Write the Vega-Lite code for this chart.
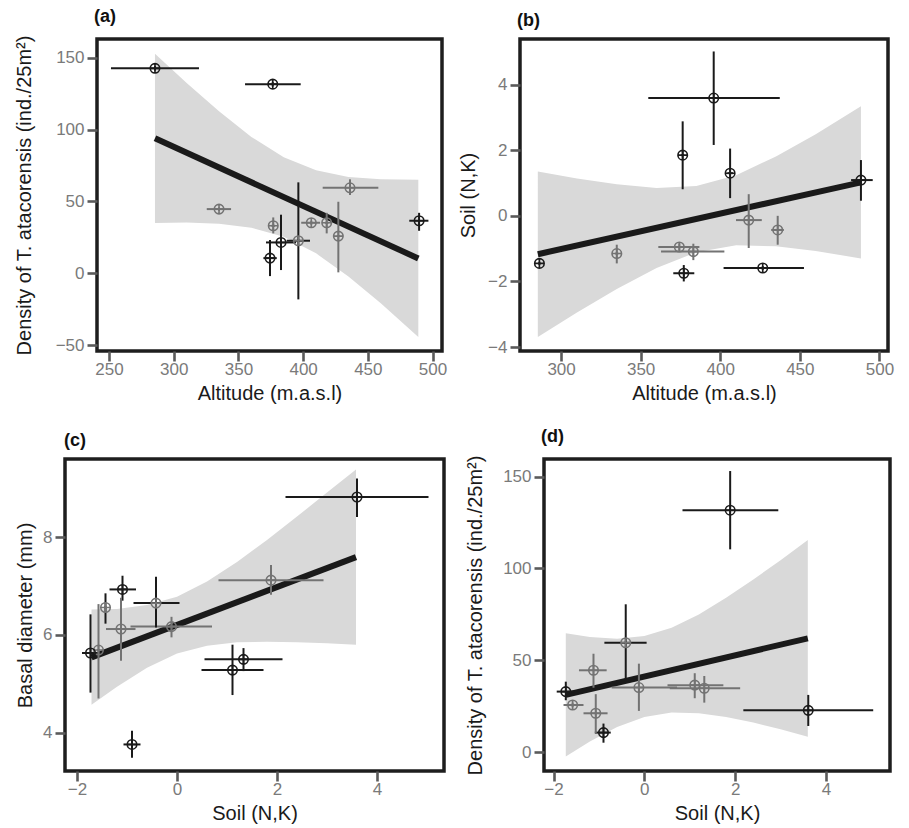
{
  "$schema": "https://vega.github.io/schema/vega-lite/v6.json",
  "padding": {"left": 12, "top": 6, "right": 5, "bottom": 5},
  "config": {
    "view": {"stroke": "#1e1e1e", "strokeWidth": 3.5},
    "font": "Liberation Sans",
    "axis": {"domain": false, "grid": false, "tickColor": "#5a5a5a", "tickWidth": 2.6, "tickSize": 10, "labelColor": "#7a7a7a", "labelFontSize": 17, "labelFont": "Liberation Sans", "labelPadding": 3, "titleFont": "Liberation Sans", "titleFontSize": 20, "titleFontWeight": "normal", "titleColor": "#1a1a1a", "labelFlush": false, "labelOverlap": false},
    "axisX": {"minExtent": 27, "maxExtent": 27, "titlePadding": 5, "labelPadding": 0},
    "title": {"anchor": "start", "frame": "group", "fontSize": 18, "fontWeight": "bold", "font": "Liberation Sans", "offset": 9, "color": "#111111"}
  },
  "datasets": {
    "a_pts": [
      {"x": 285.5, "y": 142.6, "xlo": 251.5, "xhi": 319.5, "ylo": 141, "yhi": 144.2, "pc": "k", "ec": "k"},
      {"x": 376.5, "y": 131.6, "xlo": 355.1, "xhi": 398.1, "ylo": 130, "yhi": 133.2, "pc": "k", "ec": "k"},
      {"x": 335, "y": 44.7, "xlo": 325.5, "xhi": 344.3, "ylo": 43.5, "yhi": 45.9, "pc": "g", "ec": "g"},
      {"x": 436.2, "y": 59.5, "xlo": 415.1, "xhi": 458.1, "ylo": 54.5, "yhi": 65.4, "pc": "g", "ec": "g"},
      {"x": 489.6, "y": 36.6, "xlo": 482.0, "xhi": 496.8, "ylo": 29.6, "yhi": 42.1, "pc": "k", "ec": "k"},
      {"x": 376.9, "y": 33.1, "xlo": 375.5, "xhi": 378.3, "ylo": 27.8, "yhi": 38.9, "pc": "g", "ec": "g"},
      {"x": 406.3, "y": 35.2, "xlo": 398.5, "xhi": 413.1, "ylo": 33.8, "yhi": 36.6, "pc": "g", "ec": "g"},
      {"x": 418.2, "y": 35.2, "xlo": 416.8, "xhi": 419.6, "ylo": 27.8, "yhi": 42.1, "pc": "g", "ec": "g"},
      {"x": 427.2, "y": 25.9, "xlo": 426, "xhi": 428.4, "ylo": 0.7, "yhi": 49.8, "pc": "g", "ec": "g"},
      {"x": 396.3, "y": 22.7, "xlo": 387.3, "xhi": 405.3, "ylo": -18.1, "yhi": 63.3, "pc": "g", "ec": "k"},
      {"x": 382.9, "y": 21.5, "xlo": 371.3, "xhi": 394.5, "ylo": 2.3, "yhi": 40.8, "pc": "k", "ec": "k"},
      {"x": 374.4, "y": 10.6, "xlo": 369.3, "xhi": 379.6, "ylo": -1.9, "yhi": 23.2, "pc": "k", "ec": "k"}
    ],
    "a_line": [{"x": 285.5, "y": 93.9}, {"x": 489.0, "y": 10.4}],
    "a_band": [
      {"x": 285.5, "lo": 35.1, "hi": 152.7}, {"x": 310, "lo": 35.3, "hi": 132.4}, {"x": 335, "lo": 34.5, "hi": 112.7},
      {"x": 360, "lo": 31.7, "hi": 94.9}, {"x": 385, "lo": 25.4, "hi": 80.8}, {"x": 410, "lo": 13.9, "hi": 71.7},
      {"x": 435, "lo": -2.1, "hi": 67.1}, {"x": 460, "lo": -20.8, "hi": 65.4}, {"x": 489, "lo": -44.3, "hi": 65.1}
    ],
    "b_pts": [
      {"x": 395.9, "y": 3.59, "xlo": 354.8, "xhi": 437.4, "ylo": 2.16, "yhi": 5.01, "pc": "k", "ec": "k"},
      {"x": 376.4, "y": 1.85, "xlo": 375.5, "xhi": 377.3, "ylo": 0.81, "yhi": 2.88, "pc": "k", "ec": "k"},
      {"x": 406.2, "y": 1.30, "xlo": 404.5, "xhi": 408, "ylo": 0.54, "yhi": 2.05, "pc": "k", "ec": "k"},
      {"x": 488.4, "y": 1.09, "xlo": 482.2, "xhi": 495.8, "ylo": 0.46, "yhi": 1.70, "pc": "k", "ec": "k"},
      {"x": 417.9, "y": -0.13, "xlo": 409.9, "xhi": 426.1, "ylo": -0.98, "yhi": 0.66, "pc": "g", "ec": "g"},
      {"x": 436.1, "y": -0.43, "xlo": 432, "xhi": 440, "ylo": -0.88, "yhi": 0.0, "pc": "g", "ec": "g"},
      {"x": 374.3, "y": -0.95, "xlo": 361.1, "xhi": 386.9, "ylo": -1.05, "yhi": -0.85, "pc": "g", "ec": "g"},
      {"x": 383.1, "y": -1.09, "xlo": 362.8, "xhi": 402.6, "ylo": -1.35, "yhi": -0.85, "pc": "g", "ec": "g"},
      {"x": 335, "y": -1.15, "xlo": 334, "xhi": 336, "ylo": -1.45, "yhi": -0.88, "pc": "g", "ec": "g"},
      {"x": 286.4, "y": -1.45, "xlo": 286, "xhi": 286.8, "ylo": -1.5, "yhi": -1.4, "pc": "k", "ec": "k"},
      {"x": 377.1, "y": -1.75, "xlo": 370.5, "xhi": 383.7, "ylo": -2.0, "yhi": -1.5, "pc": "k", "ec": "k"},
      {"x": 426.7, "y": -1.59, "xlo": 402.1, "xhi": 452.6, "ylo": -1.65, "yhi": -1.53, "pc": "k", "ec": "k"}
    ],
    "b_line": [{"x": 285.4, "y": -1.17}, {"x": 488.4, "y": 1.02}],
    "b_band": [
      {"x": 285.4, "lo": -3.69, "hi": 1.35}, {"x": 310, "lo": -2.95, "hi": 1.14}, {"x": 335, "lo": -2.23, "hi": 0.96},
      {"x": 360, "lo": -1.59, "hi": 0.85}, {"x": 385, "lo": -1.11, "hi": 0.91}, {"x": 410, "lo": -0.90, "hi": 1.24},
      {"x": 435, "lo": -0.93, "hi": 1.81}, {"x": 460, "lo": -1.07, "hi": 2.49}, {"x": 488.4, "lo": -1.30, "hi": 3.34}
    ],
    "c_pts": [
      {"x": 3.60, "y": 8.82, "xlo": 2.17, "xhi": 5.03, "ylo": 8.41, "yhi": 9.20, "pc": "k", "ec": "k"},
      {"x": 1.88, "y": 7.12, "xlo": 0.83, "xhi": 2.93, "ylo": 6.82, "yhi": 7.43, "pc": "g", "ec": "g"},
      {"x": -1.09, "y": 6.93, "xlo": -1.35, "xhi": -0.82, "ylo": 6.70, "yhi": 7.21, "pc": "k", "ec": "k"},
      {"x": -1.43, "y": 6.56, "xlo": -1.45, "xhi": -1.41, "ylo": 6.23, "yhi": 6.85, "pc": "g", "ec": "k"},
      {"x": -0.42, "y": 6.65, "xlo": -0.87, "xhi": 0.05, "ylo": 6.15, "yhi": 7.19, "pc": "g", "ec": "k"},
      {"x": -1.12, "y": 6.12, "xlo": -1.42, "xhi": -0.83, "ylo": 5.47, "yhi": 6.76, "pc": "g", "ec": "g"},
      {"x": -0.11, "y": 6.17, "xlo": -0.93, "xhi": 0.70, "ylo": 5.95, "yhi": 6.37, "pc": "g", "ec": "g"},
      {"x": -1.57, "y": 5.69, "xlo": -1.6, "xhi": -1.54, "ylo": 4.70, "yhi": 6.63, "pc": "g", "ec": "g"},
      {"x": -1.73, "y": 5.63, "xlo": -1.9, "xhi": -1.6, "ylo": 4.82, "yhi": 6.42, "pc": "k", "ec": "k"},
      {"x": 1.33, "y": 5.50, "xlo": 0.55, "xhi": 2.11, "ylo": 5.26, "yhi": 5.73, "pc": "k", "ec": "k"},
      {"x": 1.11, "y": 5.28, "xlo": 0.49, "xhi": 1.73, "ylo": 4.77, "yhi": 5.80, "pc": "k", "ec": "k"},
      {"x": -0.90, "y": 3.76, "xlo": -1.07, "xhi": -0.73, "ylo": 3.49, "yhi": 4.04, "pc": "k", "ec": "k"}
    ],
    "c_line": [{"x": -1.71, "y": 5.54}, {"x": 3.58, "y": 7.59}],
    "c_band": [
      {"x": -1.71, "lo": 4.57, "hi": 6.52}, {"x": -1.2, "lo": 4.94, "hi": 6.53}, {"x": -0.6, "lo": 5.33, "hi": 6.61},
      {"x": 0, "lo": 5.62, "hi": 6.78}, {"x": 0.6, "lo": 5.78, "hi": 7.09}, {"x": 1.2, "lo": 5.85, "hi": 7.49},
      {"x": 1.8, "lo": 5.86, "hi": 7.94}, {"x": 2.4, "lo": 5.85, "hi": 8.42}, {"x": 3.0, "lo": 5.83, "hi": 8.91},
      {"x": 3.58, "lo": 5.80, "hi": 9.38}
    ],
    "d_pts": [
      {"x": 1.89, "y": 131.7, "xlo": 0.84, "xhi": 2.95, "ylo": 110.4, "yhi": 153, "pc": "k", "ec": "k"},
      {"x": -0.41, "y": 59.6, "xlo": -0.88, "xhi": 0.05, "ylo": 39.7, "yhi": 80.5, "pc": "g", "ec": "k"},
      {"x": -1.12, "y": 44.6, "xlo": -1.44, "xhi": -0.83, "ylo": 35.1, "yhi": 53.6, "pc": "g", "ec": "g"},
      {"x": -0.12, "y": 35.2, "xlo": -0.72, "xhi": 0.72, "ylo": 22.5, "yhi": 48.2, "pc": "g", "ec": "g"},
      {"x": 1.11, "y": 36.5, "xlo": 0.51, "xhi": 1.74, "ylo": 29.4, "yhi": 43, "pc": "g", "ec": "g"},
      {"x": 1.32, "y": 34.8, "xlo": 0.56, "xhi": 2.11, "ylo": 27, "yhi": 41.5, "pc": "g", "ec": "g"},
      {"x": -1.73, "y": 33.0, "xlo": -1.93, "xhi": -1.53, "ylo": 28.3, "yhi": 38.4, "pc": "k", "ec": "k"},
      {"x": -1.58, "y": 25.7, "xlo": -1.78, "xhi": -1.34, "ylo": 24.5, "yhi": 27, "pc": "g", "ec": "g"},
      {"x": -1.07, "y": 21.2, "xlo": -1.34, "xhi": -0.81, "ylo": 10.3, "yhi": 31.6, "pc": "g", "ec": "g"},
      {"x": -0.90, "y": 10.7, "xlo": -1.09, "xhi": -0.74, "ylo": 5.2, "yhi": 15.6, "pc": "k", "ec": "k"},
      {"x": 3.61, "y": 22.8, "xlo": 2.18, "xhi": 5.04, "ylo": 14.3, "yhi": 31.2, "pc": "k", "ec": "k"}
    ],
    "d_line": [{"x": -1.73, "y": 31.2}, {"x": 3.60, "y": 62.0}],
    "d_band": [
      {"x": -1.73, "lo": -2.3, "hi": 64.7}, {"x": -1.2, "lo": 5.9, "hi": 62.7}, {"x": -0.6, "lo": 13.7, "hi": 61.7},
      {"x": 0, "lo": 19.2, "hi": 63.2}, {"x": 0.6, "lo": 21.6, "hi": 67.8}, {"x": 1.2, "lo": 21.2, "hi": 75.0},
      {"x": 1.8, "lo": 19.2, "hi": 84.0}, {"x": 2.4, "lo": 16.2, "hi": 94.0}, {"x": 3.0, "lo": 12.5, "hi": 104.5},
      {"x": 3.6, "lo": 8.5, "hi": 115.5}
    ],
    "empty": []
  },
  "spacing": 21,
  "vconcat": [
    {
      "spacing": -54,
      "hconcat": [
        {"width": 1, "height": 1, "view": {"stroke": null}, "data": {"name": "empty"}, "mark": {"type": "point", "opacity": 0}, "encoding": {}},
        {
          "spacing": 7,
          "hconcat": [
            {
              "width": 345, "height": 312,
              "title": {"text": "(a)", "dx": -3},
              "encoding": {
                "x": {"field": "x", "type": "quantitative", "scale": {"domain": [240.7, 507.3], "nice": false, "zero": false}, "axis": {"title": "Altitude (m.a.s.l)", "values": [250, 300, 350, 400, 450, 500]}},
                "y": {"field": "y", "type": "quantitative", "scale": {"domain": [-54, 163], "nice": false, "zero": false}, "axis": {"title": "Density of T. atacorensis (ind./25m²)", "values": [-50, 0, 50, 100, 150], "minExtent": 42, "maxExtent": 42, "titlePadding": 21}}
              },
              "layer": [
                {"data": {"name": "a_band"}, "mark": {"type": "area", "color": "#d9d9d9"}, "encoding": {"y": {"field": "lo", "type": "quantitative", "scale": {"domain": [-54, 163], "nice": false, "zero": false}, "axis": {"title": "Density of T. atacorensis (ind./25m²)", "values": [-50, 0, 50, 100, 150], "minExtent": 42, "maxExtent": 42, "titlePadding": 21}}, "y2": {"field": "hi"}}},
                {"data": {"name": "a_line"}, "mark": {"type": "line", "color": "#1a1a1a", "strokeWidth": 6, "strokeCap": "butt"}, "encoding": {}},
                {"data": {"name": "a_pts"}, "mark": {"type": "rule", "strokeWidth": 2}, "encoding": {"x": {"field": "xlo", "type": "quantitative", "scale": {"domain": [240.7, 507.3], "nice": false, "zero": false}, "axis": {"title": "Altitude (m.a.s.l)", "values": [250, 300, 350, 400, 450, 500]}}, "x2": {"field": "xhi"}, "color": {"field": "ec", "type": "nominal", "scale": {"domain": ["k", "g"], "range": ["#1a1a1a", "#737373"]}, "legend": null}}},
                {"data": {"name": "a_pts"}, "mark": {"type": "rule", "strokeWidth": 2}, "encoding": {"y": {"field": "ylo", "type": "quantitative", "scale": {"domain": [-54, 163], "nice": false, "zero": false}, "axis": {"title": "Density of T. atacorensis (ind./25m²)", "values": [-50, 0, 50, 100, 150], "minExtent": 42, "maxExtent": 42, "titlePadding": 21}}, "y2": {"field": "yhi"}, "color": {"field": "ec", "type": "nominal", "scale": {"domain": ["k", "g"], "range": ["#1a1a1a", "#737373"]}, "legend": null}}},
                {"data": {"name": "a_pts"}, "mark": {"type": "point", "shape": "M-1,0A1,1,0,1,1,1,0A1,1,0,1,1,-1,0M-1,0L1,0M0,-1L0,1", "size": 90, "filled": false, "strokeWidth": 1.6, "opacity": 1}, "encoding": {"color": {"field": "pc", "type": "nominal", "scale": {"domain": ["k", "g"], "range": ["#1a1a1a", "#737373"]}, "legend": null}}}
              ]
            },
            {
              "width": 368, "height": 312,
              "title": {"text": "(b)", "dx": -3},
              "encoding": {
                "x": {"field": "x", "type": "quantitative", "scale": {"domain": [274.2, 505.4], "nice": false, "zero": false}, "axis": {"title": "Altitude (m.a.s.l)", "values": [300, 350, 400, 450, 500]}},
                "y": {"field": "y", "type": "quantitative", "scale": {"domain": [-4.12, 5.39], "nice": false, "zero": false}, "axis": {"title": "Soil (N,K)", "values": [-4, -2, 0, 2, 4], "minExtent": 33, "maxExtent": 33, "titlePadding": 9}}
              },
              "layer": [
                {"data": {"name": "b_band"}, "mark": {"type": "area", "color": "#d9d9d9"}, "encoding": {"y": {"field": "lo", "type": "quantitative", "scale": {"domain": [-4.12, 5.39], "nice": false, "zero": false}, "axis": {"title": "Soil (N,K)", "values": [-4, -2, 0, 2, 4], "minExtent": 33, "maxExtent": 33, "titlePadding": 9}}, "y2": {"field": "hi"}}},
                {"data": {"name": "b_line"}, "mark": {"type": "line", "color": "#1a1a1a", "strokeWidth": 6, "strokeCap": "butt"}, "encoding": {}},
                {"data": {"name": "b_pts"}, "mark": {"type": "rule", "strokeWidth": 2}, "encoding": {"x": {"field": "xlo", "type": "quantitative", "scale": {"domain": [274.2, 505.4], "nice": false, "zero": false}, "axis": {"title": "Altitude (m.a.s.l)", "values": [300, 350, 400, 450, 500]}}, "x2": {"field": "xhi"}, "color": {"field": "ec", "type": "nominal", "scale": {"domain": ["k", "g"], "range": ["#1a1a1a", "#737373"]}, "legend": null}}},
                {"data": {"name": "b_pts"}, "mark": {"type": "rule", "strokeWidth": 2}, "encoding": {"y": {"field": "ylo", "type": "quantitative", "scale": {"domain": [-4.12, 5.39], "nice": false, "zero": false}, "axis": {"title": "Soil (N,K)", "values": [-4, -2, 0, 2, 4], "minExtent": 33, "maxExtent": 33, "titlePadding": 9}}, "y2": {"field": "yhi"}, "color": {"field": "ec", "type": "nominal", "scale": {"domain": ["k", "g"], "range": ["#1a1a1a", "#737373"]}, "legend": null}}},
                {"data": {"name": "b_pts"}, "mark": {"type": "point", "shape": "M-1,0A1,1,0,1,1,1,0A1,1,0,1,1,-1,0M-1,0L1,0M0,-1L0,1", "size": 90, "filled": false, "strokeWidth": 1.6, "opacity": 1}, "encoding": {"color": {"field": "pc", "type": "nominal", "scale": {"domain": ["k", "g"], "range": ["#1a1a1a", "#737373"]}, "legend": null}}}
              ]
            }
          ]
        }
      ]
    },
    {
      "spacing": 17,
      "hconcat": [
        {
          "width": 379, "height": 312,
          "title": {"text": "(c)", "dx": -1},
          "encoding": {
            "x": {"field": "x", "type": "quantitative", "scale": {"domain": [-2.24, 5.34], "nice": false, "zero": false}, "axis": {"title": "Soil (N,K)", "values": [-2, 0, 2, 4]}},
            "y": {"field": "y", "type": "quantitative", "scale": {"domain": [3.217, 9.597], "nice": false, "zero": false}, "axis": {"title": "Basal diameter (mm)", "values": [4, 6, 8], "minExtent": 23, "maxExtent": 23, "titlePadding": 7}}
          },
          "layer": [
            {"data": {"name": "c_band"}, "mark": {"type": "area", "color": "#d9d9d9"}, "encoding": {"y": {"field": "lo", "type": "quantitative", "scale": {"domain": [3.217, 9.597], "nice": false, "zero": false}, "axis": {"title": "Basal diameter (mm)", "values": [4, 6, 8], "minExtent": 23, "maxExtent": 23, "titlePadding": 7}}, "y2": {"field": "hi"}}},
            {"data": {"name": "c_line"}, "mark": {"type": "line", "color": "#1a1a1a", "strokeWidth": 6, "strokeCap": "butt"}, "encoding": {}},
            {"data": {"name": "c_pts"}, "mark": {"type": "rule", "strokeWidth": 2}, "encoding": {"x": {"field": "xlo", "type": "quantitative", "scale": {"domain": [-2.24, 5.34], "nice": false, "zero": false}, "axis": {"title": "Soil (N,K)", "values": [-2, 0, 2, 4]}}, "x2": {"field": "xhi"}, "color": {"field": "ec", "type": "nominal", "scale": {"domain": ["k", "g"], "range": ["#1a1a1a", "#737373"]}, "legend": null}}},
            {"data": {"name": "c_pts"}, "mark": {"type": "rule", "strokeWidth": 2}, "encoding": {"y": {"field": "ylo", "type": "quantitative", "scale": {"domain": [3.217, 9.597], "nice": false, "zero": false}, "axis": {"title": "Basal diameter (mm)", "values": [4, 6, 8], "minExtent": 23, "maxExtent": 23, "titlePadding": 7}}, "y2": {"field": "yhi"}, "color": {"field": "ec", "type": "nominal", "scale": {"domain": ["k", "g"], "range": ["#1a1a1a", "#737373"]}, "legend": null}}},
            {"data": {"name": "c_pts"}, "mark": {"type": "point", "shape": "M-1,0A1,1,0,1,1,1,0A1,1,0,1,1,-1,0M-1,0L1,0M0,-1L0,1", "size": 90, "filled": false, "strokeWidth": 1.6, "opacity": 1}, "encoding": {"color": {"field": "pc", "type": "nominal", "scale": {"domain": ["k", "g"], "range": ["#1a1a1a", "#737373"]}, "legend": null}}}
          ]
        },
        {
          "width": 346, "height": 312,
          "title": {"text": "(d)", "dx": -3},
          "encoding": {
            "x": {"field": "x", "type": "quantitative", "scale": {"domain": [-2.21, 5.41], "nice": false, "zero": false}, "axis": {"title": "Soil (N,K)", "values": [-2, 0, 2, 4]}},
            "y": {"field": "y", "type": "quantitative", "scale": {"domain": [-10.2, 159.55], "nice": false, "zero": false}, "axis": {"title": "Density of T. atacorensis (ind./25m²)", "values": [0, 50, 100, 150], "minExtent": 42, "maxExtent": 42, "titlePadding": 17}}
          },
          "layer": [
            {"data": {"name": "d_band"}, "mark": {"type": "area", "color": "#d9d9d9"}, "encoding": {"y": {"field": "lo", "type": "quantitative", "scale": {"domain": [-10.2, 159.55], "nice": false, "zero": false}, "axis": {"title": "Density of T. atacorensis (ind./25m²)", "values": [0, 50, 100, 150], "minExtent": 42, "maxExtent": 42, "titlePadding": 17}}, "y2": {"field": "hi"}}},
            {"data": {"name": "d_line"}, "mark": {"type": "line", "color": "#1a1a1a", "strokeWidth": 6, "strokeCap": "butt"}, "encoding": {}},
            {"data": {"name": "d_pts"}, "mark": {"type": "rule", "strokeWidth": 2}, "encoding": {"x": {"field": "xlo", "type": "quantitative", "scale": {"domain": [-2.21, 5.41], "nice": false, "zero": false}, "axis": {"title": "Soil (N,K)", "values": [-2, 0, 2, 4]}}, "x2": {"field": "xhi"}, "color": {"field": "ec", "type": "nominal", "scale": {"domain": ["k", "g"], "range": ["#1a1a1a", "#737373"]}, "legend": null}}},
            {"data": {"name": "d_pts"}, "mark": {"type": "rule", "strokeWidth": 2}, "encoding": {"y": {"field": "ylo", "type": "quantitative", "scale": {"domain": [-10.2, 159.55], "nice": false, "zero": false}, "axis": {"title": "Density of T. atacorensis (ind./25m²)", "values": [0, 50, 100, 150], "minExtent": 42, "maxExtent": 42, "titlePadding": 17}}, "y2": {"field": "yhi"}, "color": {"field": "ec", "type": "nominal", "scale": {"domain": ["k", "g"], "range": ["#1a1a1a", "#737373"]}, "legend": null}}},
            {"data": {"name": "d_pts"}, "mark": {"type": "point", "shape": "M-1,0A1,1,0,1,1,1,0A1,1,0,1,1,-1,0M-1,0L1,0M0,-1L0,1", "size": 90, "filled": false, "strokeWidth": 1.6, "opacity": 1}, "encoding": {"color": {"field": "pc", "type": "nominal", "scale": {"domain": ["k", "g"], "range": ["#1a1a1a", "#737373"]}, "legend": null}}}
          ]
        }
      ]
    }
  ]
}
